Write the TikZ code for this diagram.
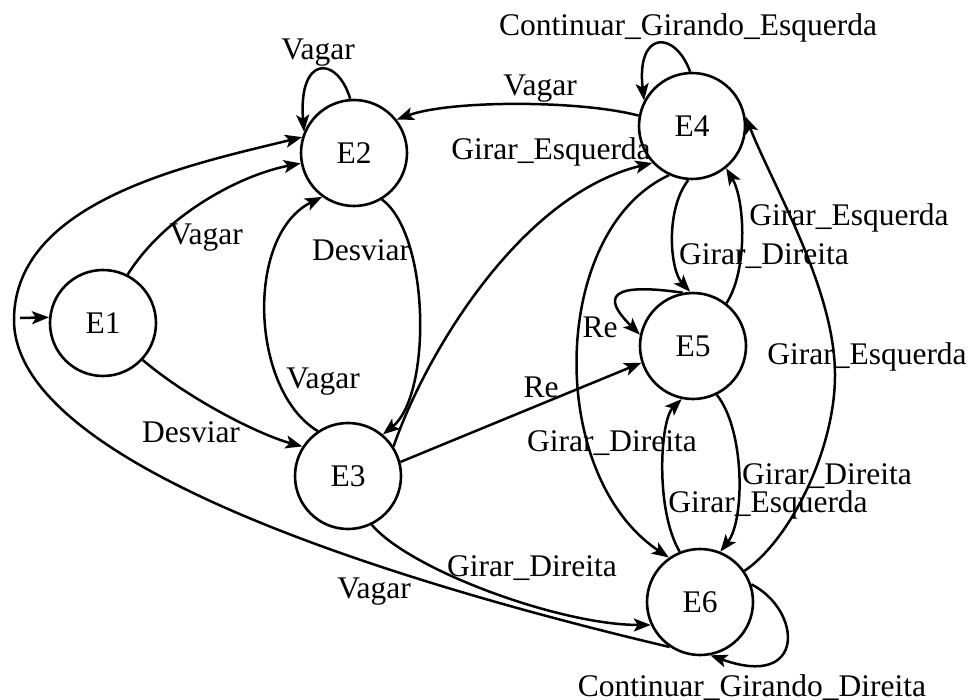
\documentclass[tikz,border=0pt]{standalone}
\usepackage{fontspec}
\setmainfont{Liberation Serif}
\usetikzlibrary{arrows.meta}
\begin{document}
\begin{tikzpicture}[x=1pt,y=-1pt,
  state/.style={circle,draw,line width=2.6pt,minimum size=106pt,inner sep=0pt,
    font=\fontsize{31.5}{36}\selectfont},
  edge/.style={line width=2.5pt,-{Stealth[length=17pt,width=13pt,inset=4pt]}},
  lbl/.style={font=\fontsize{31.5}{36}\selectfont,inner sep=0pt}]
\useasboundingbox (0,0) rectangle (973,700);

% states
\node[state] (e1) at (103,323) {E1};
\node[state] (e2) at (354,153) {E2};
\node[state] (e3) at (348,476) {E3};
\node[state] (e4) at (692,126) {E4};
\node[state] (e5) at (693,346) {E5};
\node[state] (e6) at (700,602) {E6};

% initial state marker
\coordinate (init) at (20,318);
\draw[edge] (init) -- (e1.174);

% transitions
\draw[edge] (e1.63) .. controls (165,215) and (240,175) .. (e2.191)
  node[lbl,at={(206,238)}] (l1) {Vagar};
\draw[edge] (e6.236) .. controls (420,588) and (14,470) .. (14,320)
  .. controls (14,200) and (193,164) .. (e2.163)
  node[lbl,at={(374,592)}] (l2) {Vagar};
\draw[edge] (e2.94) .. controls (337,55) and (298,55) .. (e2.157)
  node[lbl,at={(318,53)}] (l3) {Vagar};
\draw[edge] (e2.-59) .. controls (430,235) and (432,395) .. (e3.50)
  node[lbl,at={(361,250)}] (l4) {Desviar};
\draw[edge] (e3.124) .. controls (250,390) and (245,235) .. (e2.234)
  node[lbl,at={(323,382)}] (l5) {Vagar};
\draw[edge] (e1.-43) .. controls (190,400) and (260,435) .. (e3.147)
  node[lbl,at={(191,432)}] (l6) {Desviar};
\draw[edge] (e4.169) .. controls (580,100) and (450,100) .. (e2.38)
  node[lbl,at={(540,89)}] (l7) {Vagar};
\draw[edge] (e3.33) .. controls (425,355) and (520,195) .. (e4.223)
  node[lbl,at={(551,152)}] (l8) {Girar\_Esquerda};
\draw[edge] (e4.245) .. controls (550,230) and (545,475) .. (e6.125)
  node[lbl,at={(612,443)}] (l9) {Girar\_Direita};
\draw[edge] (e3.15) -- (e5.198)
  node[lbl,at={(541,387)}] (l10) {Re};
\draw[edge] (e5.101) .. controls (595,280) and (610,305) .. (e5.168)
  node[lbl,at={(600,327)}] (l11) {Re};
\draw[edge] (e4.266) .. controls (665,210) and (670,270) .. (e5.93)
  node[lbl,at={(764,256)}] (l12) {Girar\_Direita};
\draw[edge] (e5.52) .. controls (748,270) and (745,200) .. (e4.-51)
  node[lbl,at={(849,218)}] (l13) {Girar\_Esquerda};
\draw[edge] (e6.35) .. controls (790,540) and (835,450) .. (835,375)
  .. controls (835,290) and (775,190) .. (e4.10)
  node[lbl,at={(867,357)}] (l14) {Girar\_Esquerda};
\draw[edge] (e5.-64) .. controls (745,430) and (745,520) .. (e6.68)
  node[lbl,at={(827,476)}] (l15) {Girar\_Direita};
\draw[edge] (e6.112) .. controls (655,510) and (660,420) .. (e5.258)
  node[lbl,at={(768,505)}] (l16) {Girar\_Esquerda};
\draw[edge] (e3.-64) .. controls (410,570) and (560,625) .. (e6.205)
  node[lbl,at={(532,568)}] (l17) {Girar\_Direita};
\draw[edge] (e6.19) .. controls (802,610) and (807,690) .. (e6.-79)
  node[lbl,anchor=base,at={(752,696)}] (l18) {Continuar\_Girando\_Direita};
\draw[edge] (e4.92) .. controls (675,30) and (636,30) .. (e4.152)
  node[lbl,anchor=base,at={(688,36)}] (l19) {Continuar\_Girando\_Esquerda};
\end{tikzpicture}
\end{document}
